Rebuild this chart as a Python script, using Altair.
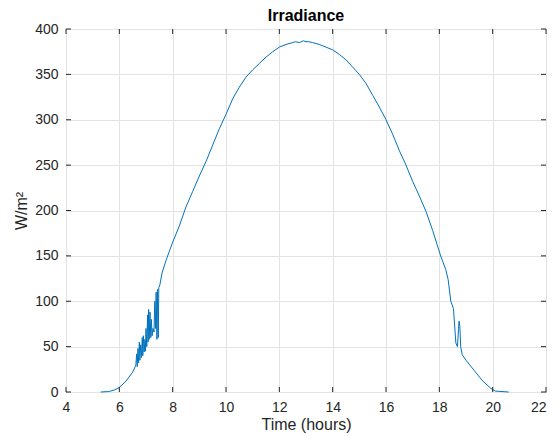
import altair as alt
import pandas as pd

# ---- data ----
time_h = [5.3, 5.6, 5.8, 6.0, 6.25, 6.5, 6.6, 6.62, 6.65, 6.67, 6.7, 6.72, 6.75, 6.77,
          6.8, 6.83, 6.86, 6.88, 6.9, 6.93, 6.96, 6.98, 7.0, 7.03, 7.06, 7.08, 7.1,
          7.12, 7.15, 7.18, 7.2, 7.23, 7.26, 7.3, 7.33, 7.36, 7.38, 7.41, 7.43, 7.46,
          7.48, 7.52, 7.6, 7.75, 8.0, 8.25, 8.5, 8.75, 9.0, 9.25, 9.5, 9.75, 10.0,
          10.25, 10.5, 10.75, 11.0, 11.25, 11.5, 11.75, 12.0, 12.25, 12.5, 12.6, 12.75,
          12.9, 13.0, 13.1, 13.25, 13.5, 13.75, 14.0, 14.25, 14.5, 14.75, 15.0, 15.25,
          15.5, 15.75, 16.0, 16.25, 16.5, 16.75, 17.0, 17.25, 17.5, 17.75, 18.05,
          18.24, 18.33, 18.43, 18.53, 18.62, 18.68, 18.72, 18.74, 18.77, 18.8, 18.86,
          19.0, 19.3, 19.6, 19.93, 20.1, 20.6]
irradiance = [0, 0.5, 2, 5, 12, 22, 28, 30, 42, 28, 48, 32, 55, 35,
              52, 38, 60, 40, 62, 44, 58, 45, 70, 50, 85, 55, 91,
              58, 88, 60, 80, 62, 70, 66, 100, 70, 110, 58, 113, 60,
              115, 118, 131, 145, 165, 183, 204, 221, 238, 254, 272, 290, 306,
              323, 336, 347, 355, 362, 369, 375, 380, 383, 385, 386, 385,
              387, 386, 386, 385, 383, 380, 377, 372, 366, 358, 350, 340,
              327, 314, 300, 284, 266, 250, 232, 216, 199, 178, 150,
              135, 124, 100, 92, 54, 50, 70, 78, 72, 50, 41,
              35, 24, 13, 4, 1, 0]

x_ticks = [4, 6, 8, 10, 12, 14, 16, 18, 20, 22]
y_ticks = [0, 50, 100, 150, 200, 250, 300, 350, 400]

W, H = 480, 363
AXIS_COLOR = "#262626"
FONT = "Liberation Sans"

df = pd.DataFrame({"t": time_h, "irr": irradiance})
xt = pd.DataFrame({"v": x_ticks})
yt = pd.DataFrame({"v": y_ticks})

xscale = alt.Scale(domain=[4, 22], nice=False, zero=False)
yscale = alt.Scale(domain=[0, 400], nice=False)

line = alt.Chart(df).mark_line(color="#0072BD", strokeWidth=1).encode(
    x=alt.X("t:Q", scale=xscale,
            axis=alt.Axis(values=x_ticks, title="Time (hours)", grid=True,
                          tickSize=0, labelPadding=8, titlePadding=2,
                          labelFlush=False, titleFontWeight="normal",
                          labelAlign={"condition": {"test": "datum.value == 22",
                                                    "value": "right"},
                                      "value": "center"})),
    y=alt.Y("irr:Q", scale=yscale,
            axis=alt.Axis(values=y_ticks, title="W/m\u00b2", grid=True,
                          tickSize=0, labelPadding=8, titlePadding=5,
                          titleFontWeight="normal")),
)

tick_len = 5
bottom_ticks = alt.Chart(xt).mark_rule(color=AXIS_COLOR, strokeWidth=1).encode(
    x=alt.X("v:Q", scale=xscale), y=alt.value(H), y2=alt.value(H - tick_len))
top_ticks = alt.Chart(xt).mark_rule(color=AXIS_COLOR, strokeWidth=1).encode(
    x=alt.X("v:Q", scale=xscale), y=alt.value(0), y2=alt.value(tick_len))
left_ticks = alt.Chart(yt).mark_rule(color=AXIS_COLOR, strokeWidth=1).encode(
    y=alt.Y("v:Q", scale=yscale), x=alt.value(0), x2=alt.value(tick_len))
right_ticks = alt.Chart(yt).mark_rule(color=AXIS_COLOR, strokeWidth=1).encode(
    y=alt.Y("v:Q", scale=yscale), x=alt.value(W), x2=alt.value(W - tick_len))

chart = alt.layer(line, bottom_ticks, top_ticks, left_ticks, right_ticks).properties(
    width=W, height=H,
    title=alt.TitleParams("Irradiance", font=FONT, fontSize=16, fontWeight="bold",
                          color="#000000", offset=6, dy=8, anchor="middle",
                          frame="group"),
    autosize=alt.AutoSizeParams(type="none"),
    padding={"left": 58, "top": 21, "right": 2, "bottom": 44},
    background="white",
).configure_view(
    stroke=AXIS_COLOR, strokeWidth=1
).configure_axis(
    domain=False,
    gridColor="#e3e3e3", gridWidth=1,
    labelFont=FONT, labelFontSize=14, labelColor=AXIS_COLOR,
    titleFont=FONT, titleFontSize=16, titleColor=AXIS_COLOR,
)

chart.save("out.html", embed_options={"renderer": "svg", "actions": False})
